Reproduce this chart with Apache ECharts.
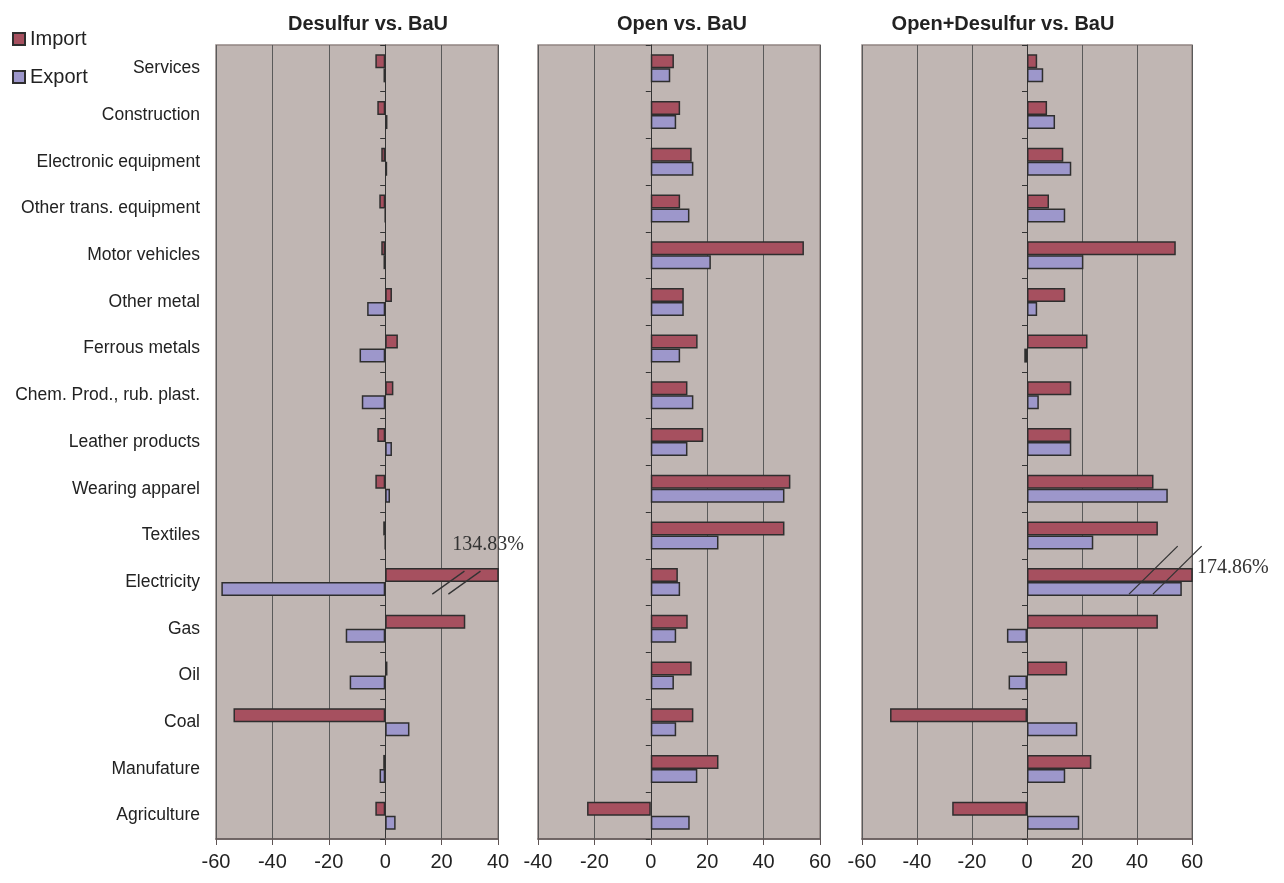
<!DOCTYPE html>
<html>
<head>
<meta charset="utf-8">
<script src="https://cdn.jsdelivr.net/npm/echarts@6/dist/echarts.min.js"></script>
<style>
  html, body { margin: 0; padding: 0; background: #fff; }
  #main { width: 1284px; height: 883px; }
</style>
</head>
<body>
<div id="main"></div>
<script>
// sectors, listed top to bottom
const sectors = ['Services', 'Construction', 'Electronic equipment', 'Other trans. equipment',
  'Motor vehicles', 'Other metal', 'Ferrous metals', 'Chem. Prod., rub. plast.', 'Leather products',
  'Wearing apparel', 'Textiles', 'Electricity', 'Gas', 'Oil', 'Coal', 'Manufature', 'Agriculture']
const panelTitles = ['Desulfur vs. BaU', 'Open vs. BaU', 'Open+Desulfur vs. BaU']

// % change vs. BaU
const desulfurImport = [-3.5, -2.8, -1.4, -2.1, -1.4, 2.4, 4.5, 2.9, -2.8, -3.5, -0.7, 134.83, 28.4, 0.8, -53.8, -0.7, -3.5]
const desulfurExport = [-0.6, 0.8, 0.7, 0, -0.6, -6.4, -9.1, -8.3, 2.4, 1.7, 0, -58.1, -14.0, -12.6, 8.6, -2.0, 3.7]
const openImport = [8.2, 10.4, 14.5, 10.4, 54.3, 11.7, 16.6, 13.0, 18.6, 49.5, 47.4, 9.6, 13.1, 14.5, 15.1, 24.0, -22.6]
const openExport = [6.9, 9.0, 15.1, 13.7, 21.3, 11.7, 10.4, 15.1, 13.0, 47.4, 24.0, 10.4, 9.0, 8.2, 9.0, 16.5, 13.8]
const bothImport = [3.7, 7.3, 13.2, 8.0, 54.1, 13.9, 22.0, 16.1, 16.1, 46.0, 47.6, 174.86, 47.6, 14.6, -49.8, 23.4, -27.2]
const bothExport = [5.9, 10.2, 16.1, 13.9, 20.5, 3.7, -1.0, 4.3, 16.1, 51.2, 24.1, 56.3, -7.3, -6.7, 18.3, 13.9, 19.0]

// x axis range of each panel
const xMins = [-60, -40, -60]
const xMaxs = [40, 60, 60]

const importData = [desulfurImport, openImport, bothImport]
const exportData = [desulfurExport, openExport, bothExport]

const importColor = '#a6505f'
const exportColor = '#9d97cb'
const font = 'Liberation Sans, Arial, sans-serif'

let chart = echarts.init(document.getElementById('main'), null, { renderer: 'canvas' })

const gridBoxes = [
  { left: 216, width: 282 },
  { left: 538, width: 282 },
  { left: 862, width: 330 }
]

let grids = [], xAxes = [], yAxes = [], series = []
for (let i = 0; i < 3; i++) {
  grids.push({
    left: gridBoxes[i].left, width: gridBoxes[i].width, top: 45, height: 794,
    show: true, backgroundColor: '#c0b6b3', borderColor: '#918583', borderWidth: 1.5
  })
  xAxes.push({
    type: 'value', gridIndex: i, min: xMins[i], max: xMaxs[i], interval: 20,
    axisLine: { show: true, onZero: false, lineStyle: { color: '#5f5555', width: 1.5 } },
    axisTick: { show: true, length: 6, lineStyle: { color: '#5f5555' } },
    axisLabel: { fontSize: 20, color: '#222', fontFamily: font, margin: 13 },
    splitLine: { show: true, lineStyle: { color: '#5a5a5a', width: 1 } }
  })
  // category axis carrying the sector labels
  yAxes.push({
    type: 'category', gridIndex: i, data: sectors, inverse: true, position: 'left',
    axisLine: { show: false, onZero: false },
    axisTick: { show: false },
    axisLabel: { show: i === 0, fontSize: 17.5, color: '#222', fontFamily: font, margin: 16 },
    splitLine: { show: false }
  })
  // zero line with its small ticks
  yAxes.push({
    type: 'category', gridIndex: i, data: sectors, inverse: true, position: 'left',
    axisLine: { show: true, onZero: true, lineStyle: { color: '#333', width: 1 } },
    axisTick: { show: true, length: 5, lineStyle: { color: '#333' } },
    axisLabel: { show: false },
    splitLine: { show: false }
  })
  series.push({
    name: 'Import', type: 'bar', xAxisIndex: i, yAxisIndex: 2 * i,
    data: importData[i], barWidth: 14, barGap: '0%',
    itemStyle: { color: importColor, borderColor: '#2e2e2e', borderWidth: 1.5 }
  })
  series.push({
    name: 'Export', type: 'bar', xAxisIndex: i, yAxisIndex: 2 * i,
    data: exportData[i], barWidth: 14, barGap: '0%',
    itemStyle: { color: exportColor, borderColor: '#2e2e2e', borderWidth: 1.5 }
  })
}

const titleX = [368, 682, 1003]
let graphics = panelTitles.map((t, i) => ({
  type: 'text', x: titleX[i], y: 24,
  style: { text: t, align: 'center', verticalAlign: 'middle', fontSize: 20, fontWeight: 'bold', fill: '#222', fontFamily: font }
}))

chart.setOption({
  animation: false,
  backgroundColor: '#fff',
  legend: {
    data: ['Import', 'Export'], orient: 'vertical', left: 7, top: 23,
    icon: 'rect', itemWidth: 12, itemHeight: 12, itemGap: 16,
    textStyle: { fontSize: 20, color: '#222', fontFamily: font, lineHeight: 22 }
  },
  grid: grids,
  xAxis: xAxes,
  yAxis: yAxes,
  series: series,
  graphic: graphics
})

// axis break marks and value labels for the clipped Electricity import bars
function breakMarks(panel, a, b, c, d, yTop, labelAt, labelDy, text) {
  const f = { xAxisIndex: panel, yAxisIndex: 2 * panel }
  const yc = chart.convertToPixel(f, [0, 'Electricity'])[1]
  const px = v => chart.convertToPixel(f, [v, 'Electricity'])[0]
  let out = []
  ;[[a, b], [c, d]].forEach(p => {
    out.push({
      type: 'line', z: 100,
      shape: { x1: px(p[0]), y1: yc + 12, x2: px(p[1]), y2: yc + yTop },
      style: { stroke: '#333', lineWidth: 1.3 }
    })
  })
  out.push({
    type: 'text', z: 100, x: px(labelAt), y: yc + labelDy,
    style: { text: text, fontSize: 20, fill: '#333', fontFamily: 'Liberation Serif, Times New Roman, serif', verticalAlign: 'middle' }
  })
  return out
}
graphics = graphics.concat(
  breakMarks(0, 16.7, 28.1, 22.4, 33.8, -11, 23.8, -37, desulfurImport[11].toFixed(2) + '%'),
  breakMarks(2, 37.1, 54.8, 45.8, 63.5, -36, 61.8, -14, bothImport[11].toFixed(2) + '%')
)
chart.setOption({ graphic: graphics })
</script>
</body>
</html>
